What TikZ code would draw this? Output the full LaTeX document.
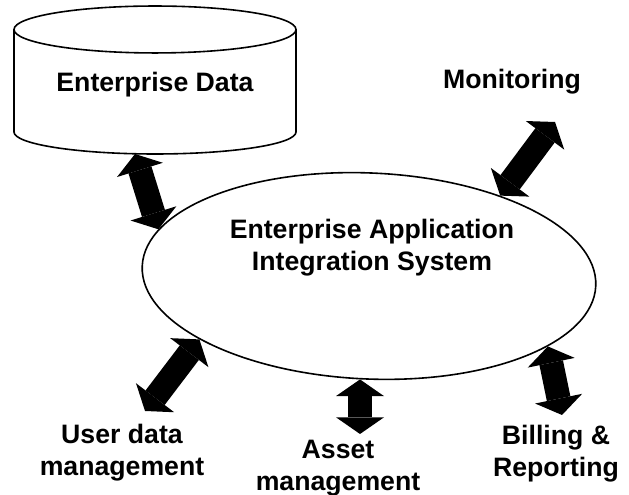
\documentclass[tikz,border=0pt]{standalone}
\usepackage{fontspec}
\setmainfont{Liberation Sans}
\usetikzlibrary{shapes.geometric,arrows.meta}

\tikzset{
  lbl/.style={font=\bfseries\fontsize{20}{24}\selectfont, align=center},
  fat/.style={line width=18pt, {Triangle[width=36pt,length=12.5pt,line width=0pt]}-{Triangle[width=36pt,length=12.5pt,line width=0pt]}},
}

\begin{document}
\begin{tikzpicture}[x=0.75pt, y=0.75pt, line width=1.2pt]
\useasboundingbox (0,0) rectangle (629,495);

% database
\draw (14,465.5) -- (14,363) arc[start angle=180, end angle=360, x radius=105.75pt, y radius=16.5pt] -- (296,465.5);
\draw (155,465.5) ellipse [x radius=105.75pt, y radius=17.6pt];
\node[lbl] (data) at (155,410) {Enterprise Data};
\coordinate (data-bot) at (135,341);

% integration system
\node[ellipse, draw, rotate=-2.5, minimum width=340.5pt, minimum height=154.5pt] (eai) at (369,219) {};
\node[lbl] (eai-text) at (372,247) {Enterprise Application\\Integration System};

% outer labels
\node[lbl] (mon) at (512,413) {Monitoring};
\node[lbl] (user) at (122,42) {User data\\management};
\node[lbl] (asset) at (338,27) {Asset\\management};
\node[lbl] (bill) at (556,41) {Billing \&\\Reporting};

% free arrow ends
\coordinate (mon-end) at (555,373);
\coordinate (user-end) at (145,84);
\coordinate (asset-end) at (360,61);
\coordinate (bill-end) at (562,80);

\draw[fat] (data-bot) -- (eai.170);
\draw[fat] (mon-end) -- (eai.34);
\draw[fat] (user-end) -- (eai.203);
\draw[fat] (asset-end |- eai.267) -- (asset-end); % straight down
\draw[fat] (bill-end) -- (eai.341);
\end{tikzpicture}
\end{document}
